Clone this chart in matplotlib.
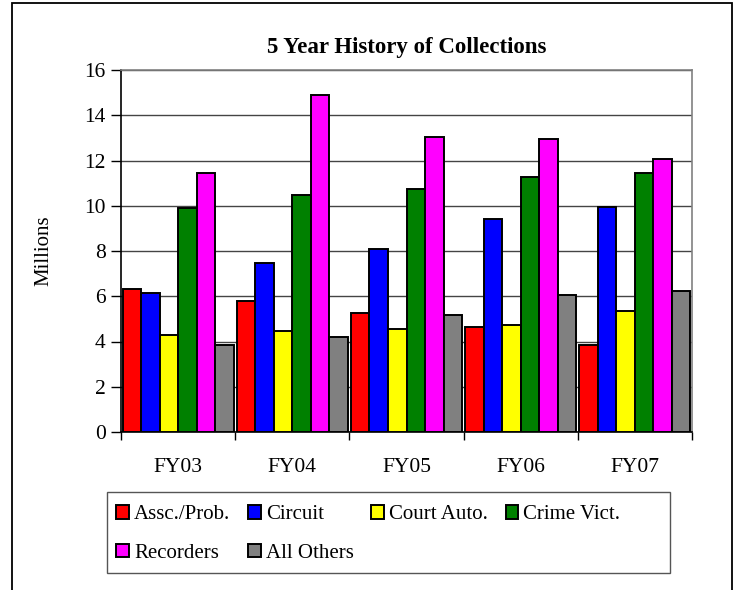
import matplotlib
matplotlib.use("Agg")
import matplotlib.pyplot as plt
import numpy as np
from matplotlib.patches import Rectangle

plt.rcParams["font.family"] = ["Liberation Serif", "DejaVu Serif"]

years = ["FY03", "FY04", "FY05", "FY06", "FY07"]
series = ["Assc./Prob.", "Circuit", "Court Auto.", "Crime Vict.", "Recorders", "All Others"]
colors = ["#FF0000", "#0000FF", "#FFFF00", "#008000", "#FF00FF", "#808080"]

assc_prob = [6.32, 5.81, 5.28, 4.64, 3.86]
circuit = [6.16, 7.47, 8.09, 9.43, 9.95]
court_auto = [4.29, 4.48, 4.57, 4.73, 5.37]
crime_vict = [9.88, 10.49, 10.74, 11.27, 11.45]
recorders = [11.45, 14.88, 13.03, 12.94, 12.06]
all_others = [3.86, 4.22, 5.17, 6.07, 6.23]
values = [assc_prob, circuit, court_auto, crime_vict, recorders, all_others]

W, H = 739, 590
fig = plt.figure(figsize=(W / 100, H / 100), dpi=100)
ax = fig.add_axes([121 / W, 1 - 432 / H, 571 / W, 362 / H])

# outer chart frame (open at the bottom like the source image)
fig.patches.append(Rectangle((12 / W, -0.05), 720 / W, 1.05 - 3 / H,
                             transform=fig.transFigure, fill=False,
                             edgecolor="black", linewidth=1.3))

x = np.arange(len(years))
bw = 0.162
handles = []
for i, (name, vals) in enumerate(zip(series, values)):
    off = (i - 2.5) * bw
    h = ax.bar(x + off, vals, bw, color=colors[i], edgecolor="black",
               linewidth=1.4, label=name, zorder=3)
    handles.append(h)

ax.set_xlim(-0.5, len(years) - 0.5)
ax.set_ylim(0, 16)
ax.set_yticks(np.arange(0, 17, 2))
ax.yaxis.grid(True, color="#444444", linewidth=1.0, zorder=0)
ax.set_axisbelow(True)

ax.set_xticks(x)
ax.set_xticklabels(years, fontsize=15.5)
ax.tick_params(axis="x", length=0, pad=19)
ax.set_xticks(np.arange(-0.5, len(years)), minor=True)
ax.tick_params(axis="x", which="minor", length=6, width=1.0, direction="out")
ax.tick_params(axis="y", labelsize=15.5, length=7, width=1.0, direction="out", pad=4)

for side in ["top", "right"]:
    ax.spines[side].set_color("#808080")
    ax.spines[side].set_linewidth(1.2)
ax.spines["left"].set_linewidth(1.2)
ax.spines["bottom"].set_linewidth(1.2)

ax.set_ylabel("Millions", fontsize=15, labelpad=22)
ax.set_title("5 Year History of Collections", fontsize=16.5, fontweight="bold", pad=12)

order = [0, 4, 1, 5, 2, 3]
leg = fig.legend([handles[k] for k in order], [series[k] for k in order],
                 ncol=4, loc="upper left", bbox_to_anchor=(107 / W, 1 - 496 / H),
                 fontsize=15, frameon=False, borderaxespad=0,
                 handlelength=0.6, handleheight=0.6, handletextpad=0.25,
                 columnspacing=0.85, labelspacing=0.95, borderpad=0.45)

# legend frame drawn separately (wider than the entries, as in the source)
fig.patches.append(Rectangle((107 / W, 1 - 573 / H), 563 / W, 81 / H,
                             transform=fig.transFigure, fill=False,
                             edgecolor="#555555", linewidth=1.0))

fig.savefig("out.png", dpi=100)
